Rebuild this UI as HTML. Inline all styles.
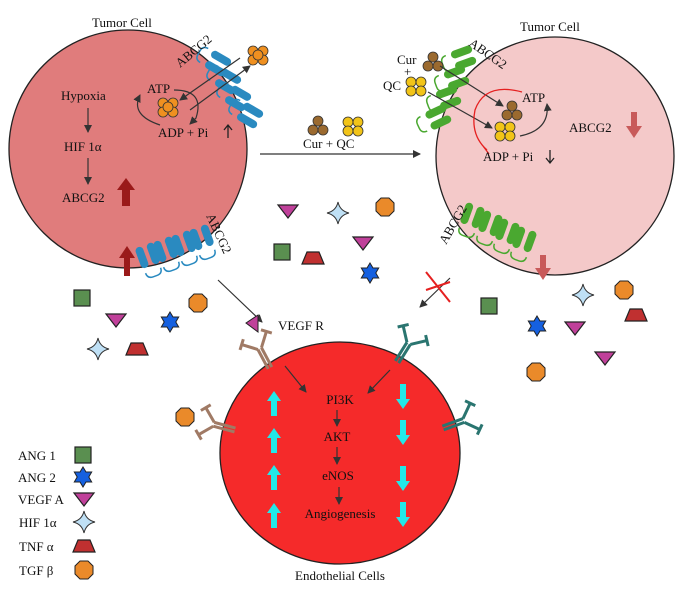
<!DOCTYPE html>
<html><head><meta charset="utf-8"><style>
html,body{margin:0;padding:0;background:#fff}
svg{display:block}
text{font-family:"Liberation Serif",serif;fill:#111}
</style></head><body>
<svg width="685" height="598" viewBox="0 0 685 598" xmlns="http://www.w3.org/2000/svg">
<defs>
<marker id="ah" markerWidth="8" markerHeight="8" refX="7" refY="4" orient="auto" markerUnits="userSpaceOnUse"><path d="M0,0 L8,4 L0,8 Z" fill="#333"/></marker>
<g id="sq"><rect x="-8" y="-8" width="16" height="16" fill="#5a8f50" stroke="#222" stroke-width="1.2"/></g>
<g id="tri"><path d="M-10,-6 L10,-6 L0,7 Z" fill="#c0409a" stroke="#222" stroke-width="1.2"/></g>
<g id="st6"><path d="M0,-10 L3,-5 L8.7,-5 L5.8,0 L8.7,5 L3,5 L0,10 L-3,5 L-8.7,5 L-5.8,0 L-8.7,-5 L-3,-5 Z" fill="#1560e0" stroke="#222" stroke-width="1"/></g>
<g id="st4"><path d="M0,-11 Q2,-2 11,0 Q2,2 0,11 Q-2,2 -11,0 Q-2,-2 0,-11 Z" fill="#bfe0f5" stroke="#333" stroke-width="1"/></g>
<g id="trap"><path d="M-6,-6 L6,-6 L11,6 L-11,6 Z" fill="#c03030" stroke="#222" stroke-width="1.2"/></g>
<g id="oct"><path d="M-4,-9 L4,-9 L9,-4 L9,4 L4,9 L-4,9 L-9,4 L-9,-4 Z" fill="#ea8a2a" stroke="#222" stroke-width="1"/></g>
<g id="capB"><path d="M-8,-9 q0,-6 6,-6 h4 q6,0 6,6" fill="none" stroke="#2a8ac0" stroke-width="1.5"/><rect x="-10" y="-4" width="8" height="22" rx="4" fill="#2a8ac0"/><rect x="2" y="-4" width="8" height="22" rx="4" fill="#2a8ac0"/></g>
<g id="capG"><path d="M-8,-9 q0,-6 6,-6 h4 q6,0 6,6" fill="none" stroke="#4aa830" stroke-width="1.5"/><rect x="-10" y="-4" width="8" height="22" rx="4" fill="#4aa830"/><rect x="2" y="-4" width="8" height="22" rx="4" fill="#4aa830"/></g>
<g id="clO"><circle cx="-5" cy="-4" r="5" fill="#ef9020" stroke="#333" stroke-width="0.8"/><circle cx="5" cy="-4" r="5" fill="#ef9020" stroke="#333" stroke-width="0.8"/><circle cx="-5" cy="5" r="5" fill="#ef9020" stroke="#333" stroke-width="0.8"/><circle cx="5" cy="5" r="5" fill="#ef9020" stroke="#333" stroke-width="0.8"/><circle cx="0" cy="0" r="5" fill="#ef9020" stroke="#333" stroke-width="0.8"/></g>
<g id="clBr"><circle cx="0" cy="-5" r="5" fill="#9b6a2f" stroke="#333" stroke-width="0.8"/><circle cx="-5" cy="4" r="5" fill="#9b6a2f" stroke="#333" stroke-width="0.8"/><circle cx="5" cy="4" r="5" fill="#9b6a2f" stroke="#333" stroke-width="0.8"/></g>
<g id="clY"><circle cx="-5" cy="-4" r="5" fill="#f2c418" stroke="#333" stroke-width="0.8"/><circle cx="5" cy="-4" r="5" fill="#f2c418" stroke="#333" stroke-width="0.8"/><circle cx="-5" cy="5" r="5" fill="#f2c418" stroke="#333" stroke-width="0.8"/><circle cx="5" cy="5" r="5" fill="#f2c418" stroke="#333" stroke-width="0.8"/></g>
<g id="recB" stroke="#a07a65" stroke-width="3" fill="none"><path d="M-2,0 V-22 M2,0 V-22"/><path d="M-2,-22 L-14,-34 M2,-22 L14,-34"/><path d="M-18,-30 L-10,-38 M18,-30 L10,-38"/></g>
<g id="recT" stroke="#2a7570" stroke-width="3" fill="none"><path d="M-2,0 V-22 M2,0 V-22"/><path d="M-2,-22 L-14,-34 M2,-22 L14,-34"/><path d="M-18,-30 L-10,-38 M18,-30 L10,-38"/></g>
<g id="cyU"><path d="M0,-13 L7,-3 L3,-3 L3,12 L-3,12 L-3,-3 L-7,-3 Z" fill="#22e8e8"/></g>
</defs>

<circle cx="128" cy="149" r="119" fill="#e07c7c" stroke="#222" stroke-width="1.3"/>
<circle cx="555" cy="156" r="119" fill="#f4c9c9" stroke="#222" stroke-width="1.3"/>
<ellipse cx="340" cy="453" rx="120" ry="111" fill="#f52a2a" stroke="#222" stroke-width="1.3"/>

<g><use href="#capB" transform="translate(212,60) rotate(-60)"/><use href="#capB" transform="translate(222,78) rotate(-60)"/><use href="#capB" transform="translate(232,95) rotate(-60)"/><use href="#capB" transform="translate(244,112) rotate(-60)"/></g>
<text x="0" y="0" font-size="13" transform="translate(180,68) rotate(-40)">ABCG2</text>
<use href="#clO" transform="translate(258,55)"/>
<use href="#clO" transform="translate(168,107)"/>
<line x1="240" y1="58" x2="180" y2="100" stroke="#333" stroke-width="1.2" marker-end="url(#ah)"/>
<line x1="190" y1="110" x2="250" y2="66" stroke="#333" stroke-width="1.2" marker-end="url(#ah)"/>
<path d="M174,90 Q205,90 196,118 L190,124" fill="none" stroke="#333" stroke-width="1.2" marker-end="url(#ah)"/>
<path d="M160,125 Q130,115 140,95" fill="none" stroke="#333" stroke-width="1.2" marker-end="url(#ah)"/>
<text x="147" y="93" font-size="13">ATP</text>
<text x="158" y="137" font-size="13">ADP + Pi</text>
<path d="M228,138 V126 M224,130 L228,125 L232,130" stroke="#222" stroke-width="1.3" fill="none"/>
<text x="61" y="100" font-size="13">Hypoxia</text>
<line x1="88" y1="108" x2="88" y2="132" stroke="#333" stroke-width="1.2" marker-end="url(#ah)"/>
<text x="64" y="151" font-size="13">HIF 1α</text>
<line x1="88" y1="158" x2="88" y2="184" stroke="#333" stroke-width="1.2" marker-end="url(#ah)"/>
<text x="62" y="202" font-size="13">ABCG2</text>
<path d="M122,206 V190 H117 L126,178 L135,190 H130 V206 Z" fill="#9a1a1a"/>
<text x="92" y="27" font-size="13">Tumor Cell</text>

<g><use href="#capB" transform="translate(150,262) rotate(160)"/><use href="#capB" transform="translate(168,256) rotate(160)"/><use href="#capB" transform="translate(186,250) rotate(160)"/><use href="#capB" transform="translate(204,244) rotate(160)"/></g>
<text font-size="13" transform="translate(206,216) rotate(65)">ABCG2</text>
<path d="M124,276 V258 H119 L127,246 L135,258 H130 V276 Z" fill="#9a1a1a"/>

<use href="#clBr" transform="translate(318,126)"/>
<use href="#clY" transform="translate(353,126)"/>
<text x="303" y="148" font-size="13">Cur + QC</text>
<line x1="260" y1="154" x2="420" y2="154" stroke="#333" stroke-width="1.2" marker-end="url(#ah)"/>

<g><use href="#capG" transform="translate(457,60) rotate(-110)"/><use href="#capG" transform="translate(450,80) rotate(-110)"/><use href="#capG" transform="translate(442,100) rotate(-110)"/><use href="#capG" transform="translate(432,120) rotate(-115)"/></g>
<text font-size="13" transform="translate(468,45) rotate(35)">ABCG2</text>
<text x="397" y="64" font-size="13">Cur</text>
<text x="404" y="76" font-size="13">+</text>
<text x="383" y="90" font-size="13">QC</text>
<use href="#clBr" transform="translate(433,62)"/>
<use href="#clY" transform="translate(416,86)"/>
<use href="#clBr" transform="translate(512,111)"/>
<use href="#clY" transform="translate(505,131)"/>
<line x1="440" y1="66" x2="503" y2="106" stroke="#333" stroke-width="1.2" marker-end="url(#ah)"/>
<line x1="428" y1="92" x2="492" y2="128" stroke="#333" stroke-width="1.2" marker-end="url(#ah)"/>
<path d="M522,92 Q485,82 475,110 Q470,135 487,150 M483,146 L489,154" fill="none" stroke="#e52020" stroke-width="1.3"/>
<path d="M520,136 Q550,130 547,104" fill="none" stroke="#333" stroke-width="1.2" marker-end="url(#ah)"/>
<text x="522" y="102" font-size="13">ATP</text>
<text x="483" y="161" font-size="13">ADP + Pi</text>
<path d="M550,150 V162 M546,158 L550,163 L554,158" stroke="#222" stroke-width="1.3" fill="none"/>
<text x="569" y="132" font-size="13">ABCG2</text>
<path d="M631,112 V126 H626 L634,138 L642,126 H637 V112 Z" fill="#c85a5a"/>
<text x="520" y="31" font-size="13">Tumor Cell</text>

<g><use href="#capG" transform="translate(470,222) rotate(200)"/><use href="#capG" transform="translate(488,230) rotate(200)"/><use href="#capG" transform="translate(505,238) rotate(200)"/><use href="#capG" transform="translate(522,246) rotate(200)"/></g>
<text font-size="13" transform="translate(446,245) rotate(-60)">ABCG2</text>
<path d="M540,255 V268 H535 L543,280 L551,268 H546 V255 Z" fill="#c85a5a"/>

<line x1="218" y1="280" x2="262" y2="322" stroke="#333" stroke-width="1.2" marker-end="url(#ah)"/>
<line x1="450" y1="278" x2="420" y2="307" stroke="#333" stroke-width="1.2" marker-end="url(#ah)"/>
<path d="M426,272 L450,302 M426,290 L450,282" stroke="#e52020" stroke-width="2"/>

<use href="#recB" transform="translate(270,368) rotate(-28)"/>
<path d="M246,323 L258,315 L258,332 Z" fill="#c0409a" stroke="#222" stroke-width="1"/>
<text x="278" y="330" font-size="13">VEGF R</text>
<use href="#recT" transform="translate(397,362) rotate(32)"/>
<use href="#recB" transform="translate(235,430) rotate(-75)"/>
<use href="#oct" transform="translate(185,417)"/>
<use href="#recT" transform="translate(443,428) rotate(70)"/>

<line x1="285" y1="366" x2="306" y2="392" stroke="#333" stroke-width="1.2" marker-end="url(#ah)"/>
<line x1="390" y1="370" x2="368" y2="393" stroke="#333" stroke-width="1.2" marker-end="url(#ah)"/>
<text x="340" y="404" font-size="13" text-anchor="middle">PI3K</text>
<line x1="337" y1="410" x2="337" y2="426" stroke="#333" stroke-width="1.2" marker-end="url(#ah)"/>
<text x="337" y="441" font-size="13" text-anchor="middle">AKT</text>
<line x1="337" y1="447" x2="337" y2="464" stroke="#333" stroke-width="1.2" marker-end="url(#ah)"/>
<text x="338" y="480" font-size="13" text-anchor="middle">eNOS</text>
<line x1="339" y1="487" x2="339" y2="504" stroke="#333" stroke-width="1.2" marker-end="url(#ah)"/>
<text x="340" y="518" font-size="13" text-anchor="middle">Angiogenesis</text>
<use href="#cyU" transform="translate(274,404)"/>
<use href="#cyU" transform="translate(274,441)"/>
<use href="#cyU" transform="translate(274,478)"/>
<use href="#cyU" transform="translate(274,516)"/>
<use href="#cyU" transform="translate(403,396) rotate(180)"/>
<use href="#cyU" transform="translate(403,432) rotate(180)"/>
<use href="#cyU" transform="translate(403,478) rotate(180)"/>
<use href="#cyU" transform="translate(403,514) rotate(180)"/>
<text x="340" y="580" font-size="13" text-anchor="middle">Endothelial Cells</text>

<use href="#sq" transform="translate(82,298)"/>
<use href="#tri" transform="translate(116,320)"/>
<use href="#st6" transform="translate(170,322)"/>
<use href="#oct" transform="translate(198,303)"/>
<use href="#st4" transform="translate(98,349)"/>
<use href="#trap" transform="translate(137,349)"/>
<use href="#tri" transform="translate(288,211)"/>
<use href="#st4" transform="translate(338,213)"/>
<use href="#oct" transform="translate(385,207)"/>
<use href="#sq" transform="translate(282,252)"/>
<use href="#trap" transform="translate(313,258)"/>
<use href="#tri" transform="translate(363,243)"/>
<use href="#st6" transform="translate(370,273)"/>
<use href="#sq" transform="translate(489,306)"/>
<use href="#st6" transform="translate(537,326)"/>
<use href="#tri" transform="translate(575,328)"/>
<use href="#st4" transform="translate(583,295)"/>
<use href="#oct" transform="translate(624,290)"/>
<use href="#trap" transform="translate(636,315)"/>
<use href="#tri" transform="translate(605,358)"/>
<use href="#oct" transform="translate(536,372)"/>

<text x="18" y="460" font-size="13">ANG 1</text><use href="#sq" transform="translate(83,455)"/>
<text x="18" y="482" font-size="13">ANG 2</text><use href="#st6" transform="translate(83,477)"/>
<text x="18" y="504" font-size="13">VEGF A</text><use href="#tri" transform="translate(84,499)"/>
<text x="19" y="527" font-size="13">HIF 1α</text><use href="#st4" transform="translate(84,522)"/>
<text x="19" y="551" font-size="13">TNF α</text><use href="#trap" transform="translate(84,546)"/>
<text x="19" y="575" font-size="13">TGF β</text><use href="#oct" transform="translate(84,570)"/>
</svg>
</body></html>
